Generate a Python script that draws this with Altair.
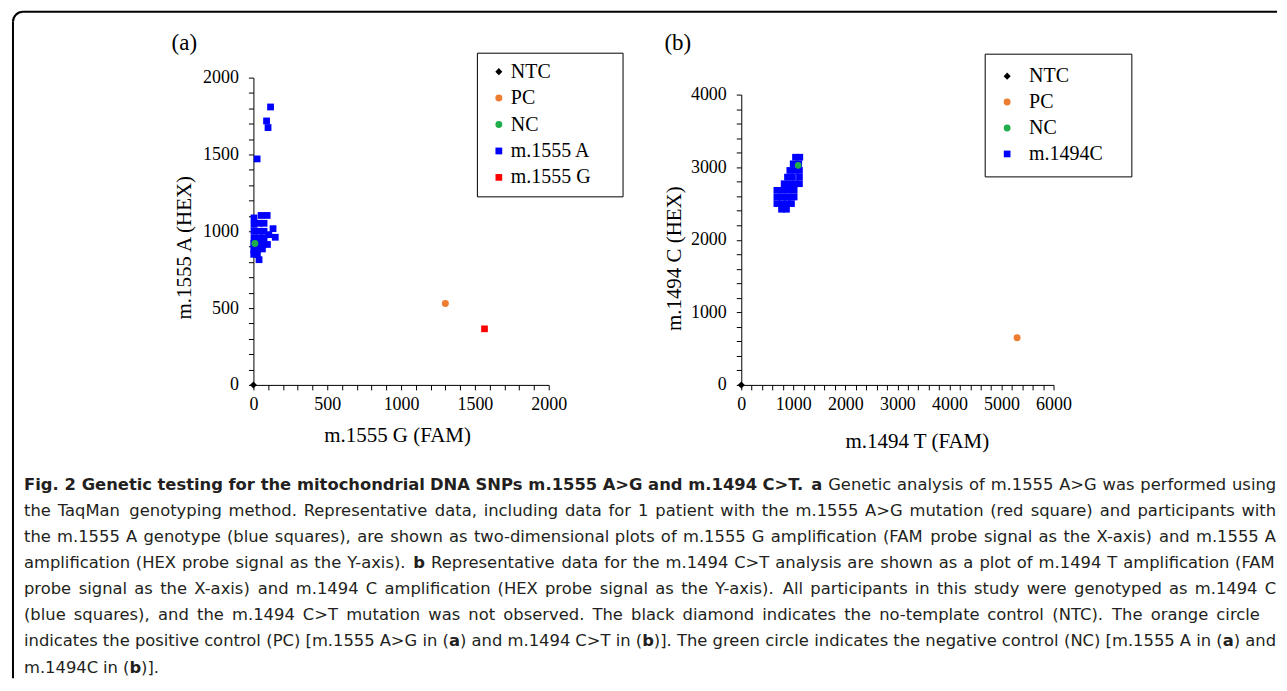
import altair as alt
import pandas as pd

# ---------------- data: panel (a) m.1555 A>G ----------------
a_groups = ["NTC", "PC", "NC", "m.1555 A", "m.1555 G"]
a_ntc_x = [0]
a_ntc_y = [0]
a_pc_x = [1300]
a_pc_y = [530]
a_nc_x = [10]
a_nc_y = [920]
a_A_x = [116, 89, 99, 25, 52, 93, 4, 4, 38, 72, 133, 148, 4, 38, 72, 104,
         4, 38, 72, 2, 27, 61, 95, 2, 27, 61, 2, 27, 38]
a_A_y = [1809, 1718, 1675, 1471, 1103, 1103, 1087, 1045, 1052, 1052, 1017, 961,
         1000, 1000, 1000, 978, 956, 956, 956, 920, 918, 915, 914, 883, 883, 885,
         850, 850, 815]
a_G_x = [1565]
a_G_y = [365]

# ---------------- data: panel (b) m.1494 C>T ----------------
b_groups = ["NTC", "PC", "NC", "m.1494C"]
b_ntc_x = [0]
b_ntc_y = [0]
b_pc_x = [5300]
b_pc_y = [650]
b_nc_x = [1094]
b_nc_y = [3025]
b_C_x = [1042, 1125, 997, 1105, 933, 1029, 1118, 888, 984, 1118, 824, 933, 1042, 1118,
         684, 786, 901, 1016, 684, 786, 901, 1016, 684, 786, 888, 965, 773, 869]
b_C_y = [3137, 3137, 3046, 3046, 2955, 2955, 2955, 2863, 2863, 2863, 2772, 2772, 2772, 2772,
         2681, 2681, 2681, 2681, 2589, 2589, 2589, 2589, 2498, 2498, 2498, 2498, 2420, 2420]

panel_labels = ["(a)", "(b)"]

# ---------------- caption text (segments per line; a leading space marks a word gap) ----------------
caption_lines = [
    [("Fig. 2 Genetic testing for the mitochondrial DNA SNPs m.1555 A>G and m.1494 C>T. a", "bold"),
     (" Genetic analysis of m.1555 A>G was performed using", "normal")],
    [("the TaqMan genotyping method. Representative data, including data for 1 patient with the m.1555 A>G mutation (red square) and participants with", "normal")],
    [("the m.1555 A genotype (blue squares), are shown as two-dimensional plots of m.1555 G amplification (FAM probe signal as the X-axis) and m.1555 A", "normal")],
    [("amplification (HEX probe signal as the Y-axis).", "normal"), (" b", "bold"),
     (" Representative data for the m.1494 C>T analysis are shown as a plot of m.1494 T amplification (FAM", "normal")],
    [("probe signal as the X-axis) and m.1494 C amplification (HEX probe signal as the Y-axis). All participants in this study were genotyped as m.1494 C", "normal")],
    [("(blue squares), and the m.1494 C>T mutation was not observed. The black diamond indicates the no-template control (NTC). The orange circle", "normal")],
    [("indicates the positive control (PC) [m.1555 A>G in (", "normal"), ("a", "bold"),
     (") and m.1494 C>T in (", "normal"), ("b", "bold"),
     (")]. The green circle indicates the negative control (NC) [m.1555 A in (", "normal"),
     ("a", "bold"), (") and", "normal")],
    [("m.1494C in (", "normal"), ("b", "bold"), (")].", "normal")],
]

# ---------------- layout (pixels) ----------------
A_W, A_H = 296, 308
B_W, B_H, B_TOP = 313, 308, 17
OX, OY = 253, 76          # page position of panel (a) plot origin
BX = 742                  # page x of panel (b) plot origin
CAP_TOP = 460             # page y of caption view
CAP_H = 218
CAP_LEFT = 23
line_right = [1278, 1278, 1278, 1278, 1278, 1262, 1278, None]   # justified right edge (None = ragged)
LINE0, LINE_STEP = 489, 26.2
panel_label_pos = [(171, 48), (665, 48)]
CAP_FONT, CAP_SIZE = "DejaVu Sans", 16.4
SERIF = "Liberation Serif"

# approximate advance widths (per 1000 em) of DejaVu Sans / DejaVu Sans Bold, used to justify lines
_W_N = dict(zip(" .,-()[]>", [318, 318, 318, 361, 390, 390, 390, 390, 838]))
_W_N.update({d: 636 for d in "0123456789"})
_W_N.update(dict(zip("ABCDEFGHIJKLMNOPQRSTUVWXYZ",
                     [684, 686, 698, 770, 632, 575, 775, 752, 295, 295, 656, 557, 863, 748, 787, 603,
                      787, 695, 635, 611, 732, 684, 989, 685, 611, 685])))
_W_N.update(dict(zip("abcdefghijklmnopqrstuvwxyz",
                     [613, 635, 550, 635, 615, 352, 635, 634, 278, 278, 579, 278, 974, 634, 612, 635,
                      635, 411, 521, 392, 634, 592, 818, 592, 592, 525])))
_W_B = dict(zip(" .,-()[]>", [348, 380, 380, 415, 457, 457, 457, 457, 838]))
_W_B.update({d: 696 for d in "0123456789"})
_W_B.update(dict(zip("ABCDEFGHIJKLMNOPQRSTUVWXYZ",
                     [774, 762, 734, 830, 683, 683, 821, 837, 372, 372, 775, 637, 995, 837, 850, 733,
                      850, 770, 720, 682, 812, 774, 1103, 771, 724, 725])))
_W_B.update(dict(zip("abcdefghijklmnopqrstuvwxyz",
                     [675, 716, 593, 716, 678, 435, 716, 712, 343, 343, 665, 343, 1042, 712, 687, 716,
                      716, 493, 595, 478, 712, 652, 924, 645, 652, 582])))


def _raw(text, weight, size):
    table = _W_B if weight == "bold" else _W_N
    return sum(table.get(c, 600) for c in text) * size / 1000.0


# calibration against measured renders at 16.8px (L6 normal = 1205px, L1 bold part = 815px)
_K = {"normal": 1205.0 / _raw(caption_lines[5][0][0], "normal", 16.8),
      "bold": 815.0 / _raw(caption_lines[0][0][0], "bold", 16.8)}


def text_w(text, weight):
    return _raw(text, weight, CAP_SIZE) * _K[weight]


def layout_line(segs, right):
    runs = []   # (text, weight, gap_before)
    pending_gap = False
    for text, w in segs:
        parts = text.split(" ")
        for j, p in enumerate(parts):
            if j > 0:
                pending_gap = True
            if p:
                runs.append((p, w, pending_gap and len(runs) > 0))
                pending_gap = False
    space = text_w(" ", "normal")
    ngaps = sum(1 for _, _, g in runs if g)
    nat = sum(text_w(t, w) for t, w, _ in runs) + ngaps * space
    gapw = space if (right is None or ngaps == 0) else space + (right - CAP_LEFT - nat) / ngaps
    out, x = [], CAP_LEFT
    for t, w, g in runs:
        if g:
            x += gapw
        out.append((t, w, x))
        x += text_w(t, w)
    return out


def build_df(parts):
    rows = []
    for name, xs, ys in parts:
        for x, y in zip(xs, ys):
            rows.append({"x": x, "y": y, "group": name})
    return pd.DataFrame(rows)


dfa = build_df([("m.1555 A", a_A_x, a_A_y), ("m.1555 G", a_G_x, a_G_y),
                ("NTC", a_ntc_x, a_ntc_y), ("PC", a_pc_x, a_pc_y), ("NC", a_nc_x, a_nc_y)])
dfb = build_df([("m.1494C", b_C_x, b_C_y),
                ("NTC", b_ntc_x, b_ntc_y), ("PC", b_pc_x, b_pc_y), ("NC", b_nc_x, b_nc_y)])


def axis(values, major, title, tx, ty, pad):
    return alt.Axis(values=values, labelExpr=f"datum.value % {major} === 0 ? datum.label : ''",
                    format="d", title=title, grid=False, domainColor="black", domainWidth=1,
                    tickColor="black", tickSize=5, tickWidth=1,
                    labelFont=SERIF, labelFontSize=18, labelColor="black", labelPadding=pad,
                    labelFlush=False, labelOverlap=False,
                    titleFont=SERIF, titleFontSize=21, titleFontWeight="normal", titleColor="black",
                    titleX=tx, titleY=ty, titleBaseline="middle")


def panel(df, groups, colors, shapes, sizes, xmax, xstep, xmajor, ymax, ystep, ymajor,
          width, height, ytop, xtitle, ytitle, xt, yt, legend):
    color = alt.Color("group:N", scale=alt.Scale(domain=groups, range=colors), legend=legend)
    shape = alt.Shape("group:N", scale=alt.Scale(domain=groups, range=shapes), legend=legend)
    return alt.Chart(df).mark_point(filled=True, opacity=1, strokeWidth=0).encode(
        x=alt.X("x:Q", scale=alt.Scale(domain=[0, xmax], nice=False, zero=True),
                axis=axis(list(range(0, xmax + 1, xstep)), xmajor, xtitle, xt[0], xt[1], 6)),
        y=alt.Y("y:Q", scale=alt.Scale(domain=[0, ymax], nice=False, zero=True, range=[height, ytop]),
                axis=axis(list(range(0, ymax + 1, ystep)), ymajor, ytitle, yt[0], yt[1], 10)),
        color=color,
        shape=shape,
        size=alt.Size("group:N", scale=alt.Scale(domain=groups, range=sizes), legend=None),
    ).properties(width=width, height=height)


def legend(lx, ly, pad, rowpad, symoff, laboff, spacer):
    # an invisible title on the right only widens the box to the reference's width
    return alt.Legend(title="NTC", titleOrient="right", titleOpacity=0, titleFont=SERIF,
                      titleFontSize=spacer, titlePadding=0,
                      orient="none", legendX=lx, legendY=ly, direction="vertical",
                      strokeColor="black", fillColor="white", padding=pad,
                      rowPadding=rowpad, labelFont=SERIF, labelFontSize=20, labelColor="black",
                      symbolSize=50, symbolStrokeWidth=0, symbolOffset=symoff, labelOffset=laboff)


chart_a = panel(dfa, a_groups, ["#000000", "#ED7D31", "#1FAE4B", "#0000FF", "#FF0000"],
                ["diamond", "circle", "circle", "square", "square"], [50, 45, 45, 54, 54],
                2000, 100, 500, 2000, 100, 500, A_W, A_H, 0,
                "m.1555 G (FAM)", "m.1555 A (HEX)", (144, 51), (-69, 170),
                legend(477 - OX, 51 - OY, 9, 6.5, 3, 2, 10.5))

chart_b = panel(dfb, b_groups, ["#000000", "#ED7D31", "#1FAE4B", "#0000FF"],
                ["diamond", "circle", "circle", "square"], [50, 45, 45, 54],
                6000, 200, 1000, 4000, 200, 1000, B_W, B_H, B_TOP,
                "m.1494 T (FAM)", "m.1494 C (HEX)", (176, 57), (-67, 181),
                legend(986 - BX, 52 - OY, 12.5, 6, 0, 12, 7.5))

# ---------------- caption ----------------
cap_rows = []
for i, (segs, right) in enumerate(zip(caption_lines, line_right)):
    for t, w, x in layout_line(segs, right):
        cap_rows.append({"t": t, "w": w, "px": x - OX, "py": LINE0 + i * LINE_STEP - CAP_TOP})
cap_df = pd.DataFrame(cap_rows)
lab_df = pd.DataFrame({"t": panel_labels,
                       "px": [p[0] - OX for p in panel_label_pos],
                       "py": [p[1] - CAP_TOP for p in panel_label_pos]})


def cap_layer(weight):
    return alt.Chart(cap_df).transform_filter(f"datum.w == '{weight}'").mark_text(
        align="left", baseline="alphabetic", font=CAP_FONT, fontSize=CAP_SIZE,
        fontWeight=weight, color="#231f20").encode(
        x=alt.X("px:Q", scale=None, axis=None),
        y=alt.Y("py:Q", scale=None, axis=None),
        text="t:N",
    )


panel_titles = alt.Chart(lab_df).mark_text(
    align="left", baseline="alphabetic", font=SERIF, fontSize=23, color="black"
).encode(x=alt.X("px:Q", scale=None, axis=None), y=alt.Y("py:Q", scale=None, axis=None), text="t:N")

one = pd.DataFrame({"k": [0]})
bx, by = 12 - OX, 10 - CAP_TOP   # border left / top in caption coordinates
border_top = alt.Chart(one).mark_rule(color="black", strokeWidth=2).encode(
    x=alt.value(bx + 10), x2=alt.value(1279 - OX), y=alt.value(by))
border_left = alt.Chart(one).mark_rule(color="black", strokeWidth=2).encode(
    x=alt.value(bx), y=alt.value(by + 10), y2=alt.value(CAP_H))
border_arc = alt.Chart(one).mark_arc(color="black").encode(
    x=alt.value(bx + 10), y=alt.value(by + 10), theta=alt.value(4.712389),
    theta2=alt.value(6.283185), radius=alt.value(11), radius2=alt.value(9))

caption = alt.layer(
    border_top, border_left, border_arc, panel_titles,
    cap_layer("normal"), cap_layer("bold"),
).properties(width=A_W, height=CAP_H)

chart = alt.concat(
    chart_a, chart_b, caption, columns=2, bounds="flush",
    spacing={"row": (CAP_TOP - OY) - A_H, "column": (BX - OX) - A_W},
).resolve_scale(
    color="independent", shape="independent", size="independent"
).resolve_legend(
    color="independent", shape="independent", size="independent"
).properties(
    padding={"left": 3, "top": 1, "right": 0, "bottom": 0},
    background="white",
).configure_view(stroke="transparent").configure_legend(strokeWidth=1)

chart.save("out.html", embed_options={"renderer": "svg", "actions": False})
